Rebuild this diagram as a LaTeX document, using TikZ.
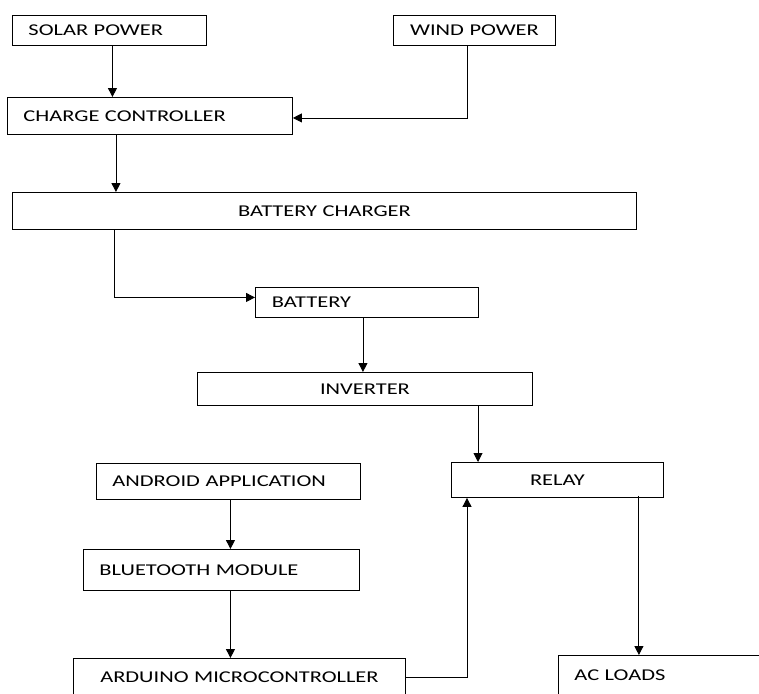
\documentclass[tikz,border=0pt]{standalone}
\usepackage{fontspec}
\setmainfont{Carlito}[FakeStretch=1.36]
\usepackage{tikz}
\usetikzlibrary{arrows.meta,positioning}

\begin{document}
\begin{tikzpicture}[x=1pt, y=-1pt,
    box/.style={draw, rectangle, anchor=north west, inner ysep=0pt, line width=0.9pt,
        font=\fontsize{16.5}{19}\selectfont},
    lbox/.style={box, align=left, inner xsep=16pt},
    cbox/.style={box, align=center, inner xsep=0pt},
    flow/.style={line width=0.9pt, -{Triangle[length=9pt,width=9pt]}}]
    \useasboundingbox (0,0) rectangle (759,693);
    \clip (0,0) rectangle (759,693);

    \node[lbox, text width=162pt, minimum height=30pt] (solar) at (12,15) {SOLAR POWER};
    \node[cbox, text width=162pt, minimum height=30pt] (wind) at (393,15) {WIND POWER};
    \node[lbox, text width=253pt, minimum height=37pt] (charge) at (7,97) {CHARGE CONTROLLER};
    \node[cbox, text width=624pt, minimum height=37pt] (charger) at (12,192) {BATTERY CHARGER};
    \node[lbox, text width=190pt, minimum height=30pt, inner xsep=16.5pt] (battery) at (255,287) {BATTERY};
    \node[cbox, text width=335pt, minimum height=33pt] (inverter) at (197,372) {INVERTER};
    \node[cbox, text width=212pt, minimum height=35pt] (relay) at (451,462) {RELAY};
    \node[lbox, text width=232pt, minimum height=36pt] (android) at (96,463) {ANDROID APPLICATION};
    \node[lbox, text width=244pt, minimum height=41pt] (bluetooth) at (83,549) {BLUETOOTH MODULE};
    \node[cbox, text width=332pt, minimum height=38pt] (arduino) at (73,658) {ARDUINO MICROCONTROLLER};
    \node[lbox, text width=230pt, minimum height=40pt] (loads) at (558,655) {AC LOADS};

    % power side
    \draw[flow] ([xshift=3pt]solar.south) -- ([xshift=3pt]solar.south |- charge.north);
    \draw[flow] ([xshift=-7pt]wind.south) |- ([yshift=-2pt]charge.east);
    \draw[flow] ([xshift=-34pt]charge.south) -- ([xshift=-34pt]charge.south |- charger.north);
    \draw[flow] ([xshift=-210pt]charger.south) |- ([yshift=5pt]battery.west);
    \draw[flow] ([xshift=-4pt]battery.south) -- ([xshift=-4pt]battery.south |- inverter.north);
    \draw[flow] ([xshift=27pt]relay.north west |- inverter.south) -- ([xshift=27pt]relay.north west);

    % control side
    \draw[flow] ([xshift=2pt]android.south) -- ([xshift=2pt]android.south |- bluetooth.north);
    \draw[flow] ([xshift=9pt]bluetooth.south) -- ([xshift=9pt]bluetooth.south |- arduino.north);
    \draw[flow] (arduino.east) -| ([xshift=16pt]relay.south west);
    \draw[flow] ([xshift=-25pt,yshift=2pt]relay.south east) -- ([xshift=-25pt]relay.south east |- loads.north);
\end{tikzpicture}
\end{document}
